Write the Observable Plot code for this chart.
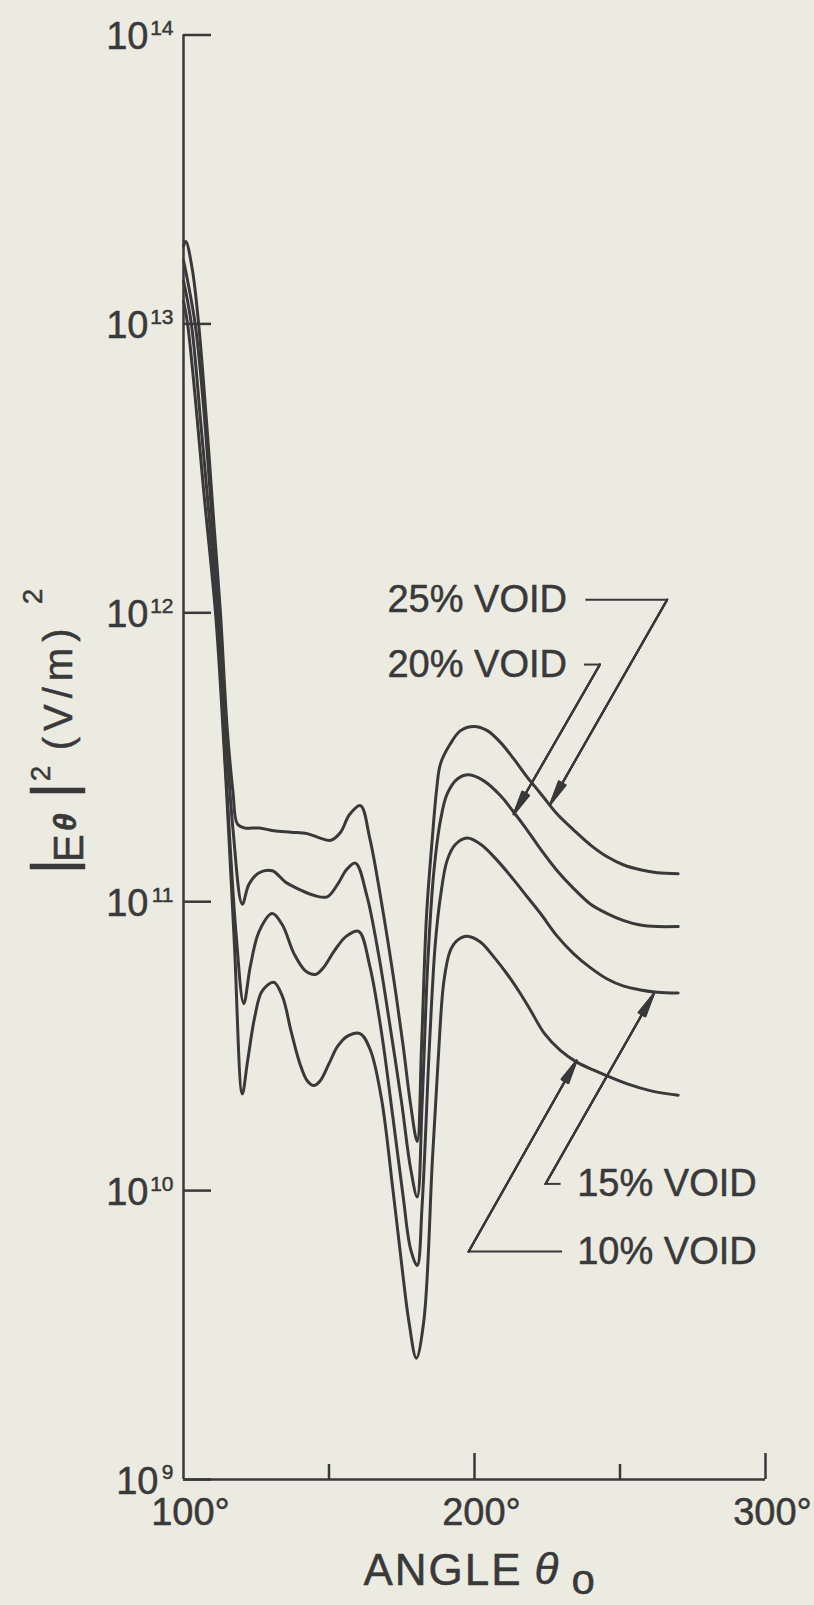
<!DOCTYPE html>
<html><head><meta charset="utf-8">
<script src="https://cdn.jsdelivr.net/npm/d3@7"></script>
<script src="https://cdn.jsdelivr.net/npm/@observablehq/plot@0.6"></script>
<style>
html,body{margin:0;padding:0;background:#ecebe2;}
#chart svg{display:block;}
text[aria-label="x-title"]{letter-spacing:2px;}
text[aria-label="y-title-unit"]{letter-spacing:6px;}
</style></head><body><div id="chart"></div>
<script>
// [angle (deg), |E_theta|^2 (V/m)^2]
const void10 = [[100,1.2e13],[101.4,1.0e13],[104,5.6e12],[107,2.6e12],[111,1.0e12],[113,5.0e11],[115,2.2e11],[117.5,7.1e10],[120.2,2.16e10],[122,2.8e10],[124.5,4.0e10],[127,4.9e10],[131,5.26e10],[134,4.7e10],[137,3.55e10],[140,2.75e10],[142.5,2.4e10],[144.8,2.31e10],[147,2.4e10],[150,2.75e10],[153,3.16e10],[156.5,3.43e10],[160.8,3.49e10],[164.3,3.05e10],[168,2.09e10],[172,1.0e10],[175.5,5.0e9],[177.4,3.55e9],[180,2.63e9],[182.6,3.55e9],[185.5,1.26e10],[187.5,2.82e10],[189.5,5.33e10],[191.7,6.78e10],[194.1,7.35e10],[197.5,7.59e10],[202.1,7.24e10],[206.7,6.43e10],[211.2,5.62e10],[215.8,4.8e10],[219.3,4.2e10],[224,3.5e10],[229.6,3.05e10],[235,2.79e10],[241,2.61e10],[252.5,2.34e10],[261,2.21e10],[270,2.14e10]];
const void15 = [[100,1.41e13],[102.7,1.0e13],[106,4.47e12],[111.5,1.0e12],[114,3.55e11],[116,1.58e11],[118,7.9e10],[120.7,4.44e10],[123,6.0e10],[126,7.9e10],[130.5,9.1e10],[134,8.3e10],[138,6.6e10],[142,5.75e10],[145.4,5.6e10],[148,5.9e10],[152,6.8e10],[156,7.6e10],[160.2,7.9e10],[164,6.0e10],[168,3.55e10],[172,1.78e10],[175.5,9.5e9],[178,6.3e9],[180.3,5.5e9],[182,8.9e9],[184.5,3.16e10],[186.5,7.1e10],[188.3,1.04e11],[190.6,1.39e11],[193.5,1.58e11],[197.5,1.66e11],[202.1,1.58e11],[207.8,1.39e11],[213.5,1.19e11],[218.1,1.04e11],[222.7,9.1e10],[228.4,7.6e10],[234.1,6.6e10],[239.9,5.9e10],[245.6,5.4e10],[251.3,5.1e10],[257,4.95e10],[262.8,4.86e10],[270,4.83e10]];
const void20 = [[100,1.66e13],[104,1.0e13],[107,5.0e12],[112,1.0e12],[114.5,4.0e11],[117,1.78e11],[120.2,9.8e10],[122.5,1.15e11],[126,1.26e11],[130.5,1.28e11],[135,1.17e11],[140,1.1e11],[145,1.05e11],[149.4,1.04e11],[153,1.15e11],[156,1.29e11],[159.1,1.36e11],[163,1.05e11],[167,6.6e10],[171,3.7e10],[175,2.0e10],[178,1.2e10],[180.3,9.5e9],[182,2.0e10],[184,6.3e10],[186,1.26e11],[188.3,1.91e11],[190.6,2.36e11],[194.1,2.66e11],[198.1,2.75e11],[203.2,2.62e11],[208.9,2.33e11],[213.5,2.04e11],[218.1,1.77e11],[222.7,1.52e11],[228.4,1.28e11],[234.1,1.11e11],[239.9,9.8e10],[245.6,9.1e10],[251.3,8.6e10],[257,8.3e10],[262.8,8.2e10],[270,8.2e10]];
const void25 = [[100,1.86e13],[100.8,1.93e13],[103,1.55e13],[105.2,1.0e13],[108,4.47e12],[110.5,2.0e12],[112.7,1.0e12],[115,4.0e11],[117,2.4e11],[118.5,1.86e11],[121,1.8e11],[126,1.8e11],[131,1.76e11],[137,1.74e11],[142.5,1.72e11],[147,1.66e11],[150.5,1.63e11],[154,1.74e11],[157,2.0e11],[160.8,2.15e11],[164,1.66e11],[168,1.0e11],[172,5.6e10],[175.5,3.16e10],[178,2.0e10],[180.3,1.48e10],[181.8,3.16e10],[183.5,8.9e10],[185.5,1.66e11],[187,2.45e11],[188.3,3.0e11],[191.7,3.52e11],[195.2,3.91e11],[199.8,4.04e11],[204.4,3.91e11],[208.9,3.56e11],[213.5,3.12e11],[218.1,2.7e11],[222.7,2.37e11],[228.4,2.01e11],[234.1,1.77e11],[239.9,1.57e11],[245.6,1.43e11],[251.3,1.34e11],[257,1.29e11],[262.8,1.26e11],[270,1.25e11]];

const seriesNames = ["10% VOID", "15% VOID", "20% VOID", "25% VOID"];
const seriesPoints = [void10, void15, void20, void25];

const xTicksShort = [150, 250];
const xTicksLong = [200, 300];
const xTickLabels = [100, 200, 300];
const yTicks = [1e9, 1e10, 1e11, 1e12, 1e13, 1e14];
const yTickExponents = ["9", "10", "11", "12", "13", "14"];

// label text anchored at [angle, value]
const labelNames = ["25% VOID", "20% VOID", "15% VOID", "10% VOID"];
const labelAnchors = [[170.1, 1.11e12], [170.1, 6.62e11], [235.3, 1.055e10], [235.3, 6.15e9]];
// leader: straight piece start, corner, arrow tip
const leaderStarts = [[238.1, 1.11e12], [237.6, 6.62e11], [229.6, 1.055e10], [230.1, 6.15e9]];
const leaderCorners = [[266.2, 1.11e12], [243.1, 6.62e11], [224.4, 1.055e10], [198.0, 6.15e9]];
const leaderTips = [[226.1, 2.18e11], [213.5, 2.01e11], [261.6, 4.8e10], [235.1, 2.82e10]];

const rows = seriesNames.flatMap((name, i) => seriesPoints[i].map(([angle, value]) => ({series: name, angle, value})));
const labels = labelNames.map((text, i) => ({text, angle: labelAnchors[i][0], value: labelAnchors[i][1]}));
const leaders = labelNames.map((text, i) => ({
  ax: leaderStarts[i][0], ay: leaderStarts[i][1],
  cx: leaderCorners[i][0], cy: leaderCorners[i][1],
  tx: leaderTips[i][0], ty: leaderTips[i][1]
}));
const yTickRows = yTicks.map((v, i) => ({v, e: yTickExponents[i]}));

const ink = "#3a3939";
const font = "'Liberation Sans', Arial, Helvetica, sans-serif";
const thick = {fill: ink, stroke: ink, strokeWidth: 0.5};

const headAngles = [4, 8, 12, 16, 19];

const chart = Plot.plot({
  width: 814, height: 1605,
  marginTop: 34.5, marginRight: 49, marginBottom: 126, marginLeft: 183,
  style: {background: "#ecebe2", color: ink, fontFamily: font},
  x: {domain: [100, 300], axis: null},
  y: {type: "log", domain: [1e9, 1e14], axis: null},
  marks: [
    Plot.ruleX([100], {y1: 1e9, y2: 1e14, stroke: ink, strokeWidth: 2.5}),
    Plot.ruleY([1e9], {x1: 100, x2: 300, stroke: ink, strokeWidth: 2.5}),
    Plot.axisY({ticks: yTicks, anchor: "left", tickSize: -28, tickFormat: () => "", strokeWidth: 2.5, label: null}),
    Plot.axisX({ticks: xTicksShort, anchor: "bottom", tickSize: -15, tickFormat: () => "", strokeWidth: 2.5, label: null}),
    Plot.axisX({ticks: xTicksLong, anchor: "bottom", tickSize: -26, tickFormat: () => "", strokeWidth: 2.5, label: null}),
    // y tick labels: "10" + exponent
    Plot.text(yTickRows.filter(d => d.e.length === 2), {x: 100, y: "v", text: () => "10", textAnchor: "end", lineAnchor: "top", dx: -35, dy: -12.5, fontSize: 38, ...thick}),
    Plot.text(yTickRows.filter(d => d.e.length === 1), {x: 100, y: "v", text: () => "10", textAnchor: "end", lineAnchor: "top", dx: -25, dy: -12.5, fontSize: 38, ...thick}),
    Plot.text(yTickRows, {x: 100, y: "v", text: "e", textAnchor: "end", lineAnchor: "top", dx: -10, dy: -15, fontSize: 21, ...thick}),
    // x tick labels
    Plot.text(xTickLabels, {x: d => d, y: 1e9, text: d => `${d}°`, textAnchor: "middle", lineAnchor: "top", dx: 7, dy: 19, fontSize: 38, ...thick}),
    // curves
    Plot.line(rows, {x: "angle", y: "value", z: "series", stroke: ink, strokeWidth: 3, curve: "catmull-rom"}),
    // labels
    Plot.text(labels, {x: "angle", y: "value", text: "text", textAnchor: "start", lineAnchor: "middle", fontSize: 38, ...thick}),
    Plot.link(leaders, {x1: "ax", y1: "ay", x2: "cx", y2: "cy", stroke: ink, strokeWidth: 2}),
    ...headAngles.map(a => Plot.arrow(leaders, {x1: "cx", y1: "cy", x2: "tx", y2: "ty", stroke: ink, strokeWidth: 2, headLength: 18, headAngle: a})),
    // y title  |Eθ|²(V/m)²
    Plot.text(["|"], {frameAnchor: "left", rotate: -90, textAnchor: "start", lineAnchor: "top", dx: -153, dy: 117, fontSize: 60, ...thick}),
    Plot.text(["E"], {frameAnchor: "left", rotate: -90, textAnchor: "start", lineAnchor: "top", dx: -130, dy: 105, fontSize: 42, ...thick}),
    Plot.text(["θ"], {frameAnchor: "left", rotate: -90, textAnchor: "start", lineAnchor: "top", dx: -130, dy: 74, fontSize: 32, fontWeight: "bold", fontStyle: "italic", ...thick}),
    Plot.text(["|"], {frameAnchor: "left", rotate: -90, textAnchor: "start", lineAnchor: "top", dx: -153, dy: 41, fontSize: 60, ...thick}),
    Plot.text(["2"], {frameAnchor: "left", rotate: -90, textAnchor: "start", lineAnchor: "top", dx: -153, dy: 24, fontSize: 28, ...thick}),
    Plot.text(["(V/m)"], {frameAnchor: "left", rotate: -90, textAnchor: "start", lineAnchor: "top", dx: -140, dy: -7, fontSize: 40, ariaLabel: () => "y-title-unit", ...thick}),
    Plot.text(["2"], {frameAnchor: "left", rotate: -90, textAnchor: "start", lineAnchor: "top", dx: -161, dy: -153, fontSize: 28, ...thick}),
    // x title  ANGLE θo
    Plot.text(["ANGLE"], {frameAnchor: "bottom", textAnchor: "start", lineAnchor: "top", dx: -111, dy: 74, fontSize: 44, ariaLabel: () => "x-title", ...thick}),
    Plot.text(["θ"], {frameAnchor: "bottom", textAnchor: "start", lineAnchor: "top", dx: 60, dy: 73, fontSize: 44, fontStyle: "italic", ...thick}),
    Plot.text(["o"], {frameAnchor: "bottom", textAnchor: "start", lineAnchor: "top", dx: 97, dy: 85, fontSize: 42, ...thick})
  ]
});
document.getElementById("chart").append(chart);
</script></body></html>
